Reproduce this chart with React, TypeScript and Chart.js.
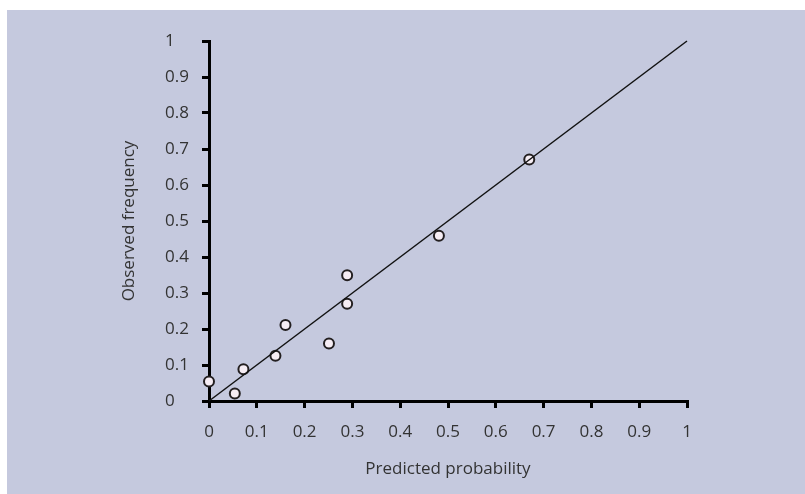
import React, { useEffect, useRef } from "react";
import { Chart, registerables } from "chart.js";

Chart.register(...registerables);

const predicted = [0, 0.054, 0.072, 0.139, 0.16, 0.251, 0.289, 0.289, 0.481, 0.67];
const observed = [0.054, 0.021, 0.088, 0.126, 0.211, 0.16, 0.27, 0.349, 0.459, 0.671];
const refLineX = [0, 1];
const refLineY = [0, 1];
const xTitle = "Predicted probability";
const yTitle = "Observed frequency";

const BG = "#c5c9de";
const TEXT = "#333333";

const bgPlugin = {
  id: "bgPlugin",
  beforeDraw(chart: any) {
    const ctx = chart.ctx;
    ctx.save();
    ctx.fillStyle = "#ffffff";
    ctx.fillRect(0, 0, chart.width, chart.height);
    ctx.fillStyle = BG;
    ctx.fillRect(7, 10, chart.width - 7, chart.height - 10);
    ctx.restore();
  },
};

const fmt = (v: any) => {
  const n = Number(Number(v).toFixed(1));
  return String(n);
};

export default function App() {
  const ref = useRef<HTMLCanvasElement | null>(null);
  useEffect(() => {
    if (!ref.current) return;
    const font = { family: "'Open Sans', sans-serif", size: 17 };
    const chart = new Chart(ref.current, {
      type: "scatter",
      data: {
        datasets: [
          {
            type: "line",
            data: refLineX.map((x, i) => ({ x, y: refLineY[i] })),
            borderColor: "#111111",
            borderWidth: 1.5,
            pointRadius: 0,
            fill: false,
            clip: false,
          } as any,
          {
            data: predicted.map((x, i) => ({ x, y: observed[i] })),
            backgroundColor: "#f6edf4",
            borderColor: "#231f20",
            borderWidth: 2,
            pointRadius: 5,
            clip: false,
          } as any,
        ],
      },
      options: {
        animation: false,
        responsive: false,
        layout: { padding: { left: 165, top: 41, right: 118, bottom: 0 } },
        plugins: { legend: { display: false }, tooltip: { enabled: false } },
        scales: {
          x: {
            type: "linear",
            min: 0,
            max: 1,
            afterFit: (s: any) => {
              s.height = 93;
            },
            ticks: { stepSize: 0.1, color: TEXT, font, padding: 14, callback: fmt, maxRotation: 0 },
            grid: {
              display: true,
              drawOnChartArea: false,
              drawTicks: true,
              tickLength: 7,
              tickWidth: 3,
              lineWidth: 3,
              color: "#000",
            },
            border: { display: true, width: 3, color: "#000" },
            title: { display: true, text: xTitle, color: TEXT, font, padding: { top: 0, bottom: 15 } },
          },
          y: {
            type: "linear",
            min: 0,
            max: 1,
            afterFit: (s: any) => {
              s.width = 44;
            },
            ticks: { stepSize: 0.1, color: TEXT, font, padding: 15, callback: fmt, crossAlign: "far" },
            grid: {
              display: true,
              drawOnChartArea: false,
              drawTicks: true,
              tickLength: 7,
              tickWidth: 3,
              lineWidth: 3,
              color: "#000",
            },
            border: { display: true, width: 3, color: "#000" },
            title: { display: true, text: yTitle, color: TEXT, font, padding: { top: -46, bottom: 0 } },
          },
        },
      } as any,
      plugins: [bgPlugin],
    });
    return () => chart.destroy();
  }, []);
  return (
    <div style={{ position: "fixed", left: 0, top: 0, width: 805, height: 494, background: "#fff" }}>
      <canvas ref={ref} width={805} height={494} style={{ display: "block", width: 805, height: 494 }} />
    </div>
  );
}
